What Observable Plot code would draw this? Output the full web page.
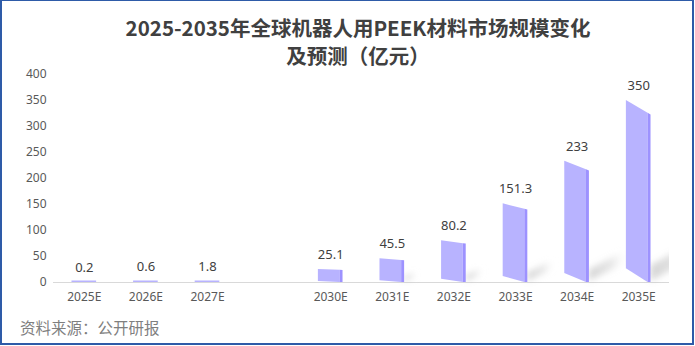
<!DOCTYPE html>
<html>
<head>
<meta charset="utf-8">
<script src="https://cdn.jsdelivr.net/npm/d3@7"></script>
<script src="https://cdn.jsdelivr.net/npm/@observablehq/plot@0.6"></script>
<style>
  html, body { margin: 0; padding: 0; background: #ffffff; }
  #wrap { position: relative; width: 695px; height: 346px; overflow: hidden; background: #fff; }
  #frame { position: absolute; left: 0; top: 0; width: 694px; height: 345px; box-sizing: border-box;
           border-style: solid; border-color: #2E5BA8; border-width: 1px 2px 2px 2px; pointer-events: none; }
  #title { position: absolute; left: 0; top: 12.5px; width: 716px; text-align: center;
           font-family: "Noto Sans CJK SC", sans-serif; font-weight: 700; font-size: 20.5px;
           line-height: 28px; color: #404040; }
  #caption { position: absolute; left: 20px; top: 316px; font-family: "Noto Sans CJK SC", sans-serif;
             font-size: 15.5px; line-height: 22px; color: #7F7F7F; }
  #chart { position: absolute; left: 0; top: 0; }
</style>
</head>
<body>
<div id="wrap">
  <div id="chart"></div>
  <div id="title">2025-2035年全球机器人用PEEK材料市场规模变化<br>及预测（亿元）</div>
  <div id="caption">资料来源：公开研报</div>
  <div id="frame"></div>
</div>
<script>
const categories = ["2025E", "2026E", "2027E", "", "2030E", "2031E", "2032E", "2033E", "2034E", "2035E"];
const years = ["2025E", "2026E", "2027E", "2030E", "2031E", "2032E", "2033E", "2034E", "2035E"];
const values = [0.2, 0.6, 1.8, 25.1, 45.5, 80.2, 151.3, 233, 350];
const yTicks = [0, 50, 100, 150, 200, 250, 300, 350, 400];

const data = years.map((year, i) => ({year, value: values[i]}));

const FRONT = "#B8B3FF";
const SIDE = "#9D92FF";

function bars3d(index, scales, vals, dimensions) {
  const g = d3.create("svg:g");
  const X = vals.x, Y1 = vals.y1, Y2 = vals.y2;
  const bw = typeof scales.x.bandwidth === "function" ? scales.x.bandwidth() : scales.x.bandwidth;
  const defs = g.append("defs");
  const grad = defs.append("linearGradient").attr("id", "shGrad").attr("x1", 0).attr("x2", 1).attr("y1", 0).attr("y2", 0);
  grad.append("stop").attr("offset", 0).attr("stop-color", "#a0a0a0").attr("stop-opacity", 0.45);
  grad.append("stop").attr("offset", 0.55).attr("stop-color", "#b8b8b8").attr("stop-opacity", 0.35);
  grad.append("stop").attr("offset", 1).attr("stop-color", "#ffffff").attr("stop-opacity", 0);
  const filt = defs.append("filter").attr("id", "shBlur").attr("x", "-50%").attr("y", "-50%").attr("width", "200%").attr("height", "200%");
  filt.append("feGaussianBlur").attr("stdDeviation", 3);
  const clip = defs.append("clipPath").attr("id", "plotClip");
  clip.append("rect")
    .attr("x", dimensions.marginLeft).attr("y", 0)
    .attr("width", dimensions.width - dimensions.marginLeft - dimensions.marginRight)
    .attr("height", dimensions.height);
  const shadowG = g.append("g").attr("clip-path", "url(#plotClip)");
  const barG = g.append("g");
  for (const i of index) {
    const a = Y1[i], b = Y2[i];
    const y1 = Math.max(a, b);
    const top = Math.min(a, b);
    const h = y1 - top;
    const xl = X[i];
    const xf = xl + bw * 0.88;
    const xr = xl + bw;
    if (h < 3) {
      const hv = Math.max(h, 1.5);
      barG.append("rect").attr("x", xl).attr("y", y1 - hv).attr("width", bw).attr("height", hv).attr("fill", FRONT);
      continue;
    }
    const td = 0.07 * h, br = 0.075 * h;
    if (h > 20) {
      const L = 0.28 * h + 6, S = 0.2 * h + 3, t = 0.07 * h + 4;
      const pts = [[xr, y1 - 1], [xr, y1 - t], [xr + L, y1 - S - t / 2], [xr + L, y1 - S + t / 2]];
      shadowG.append("polygon").attr("points", pts.map(p => p.join(",")).join(" "))
        .attr("fill", "url(#shGrad)").attr("filter", "url(#shBlur)");
    }
    const front = [[xl, top], [xf, top + td], [xf, y1], [xl, y1 - br]];
    const side = [[xf, top + td], [xr, top + td * 1.14], [xr, y1], [xf, y1]];
    barG.append("polygon").attr("points", front.map(p => p.join(",")).join(" ")).attr("fill", FRONT);
    barG.append("polygon").attr("points", side.map(p => p.join(",")).join(" ")).attr("fill", SIDE);
  }
  return g.node();
}

const chart = Plot.plot({
  width: 695,
  height: 310,
  marginLeft: 53,
  marginRight: 26,
  marginTop: 74,
  marginBottom: 28,
  style: {background: "transparent", fontFamily: "'Noto Sans', sans-serif", fontSize: "12px", color: "#595959"},
  x: {domain: categories, paddingInner: 0.6, paddingOuter: 0.3, round: false, label: null},
  y: {domain: [0, 400], label: null},
  marks: [
    Plot.axisY({ticks: yTicks, tickSize: 0, tickPadding: 7, fill: "#595959", fontSize: 12, label: null}),
    Plot.axisX({tickSize: 0, tickPadding: 10, fill: "#595959", fontSize: 12, label: null}),
    Plot.ruleY([0], {stroke: "#D9D9D9", strokeWidth: 1}),
    Plot.barY(data, {x: "year", y: "value", render: bars3d}),
    Plot.text(data, {x: "year", y: "value", text: d => String(d.value), dy: -15, lineAnchor: "middle",
                     fill: "#404040", fontSize: 13})
  ]
});
document.getElementById("chart").appendChild(chart);
</script>
</body>
</html>
